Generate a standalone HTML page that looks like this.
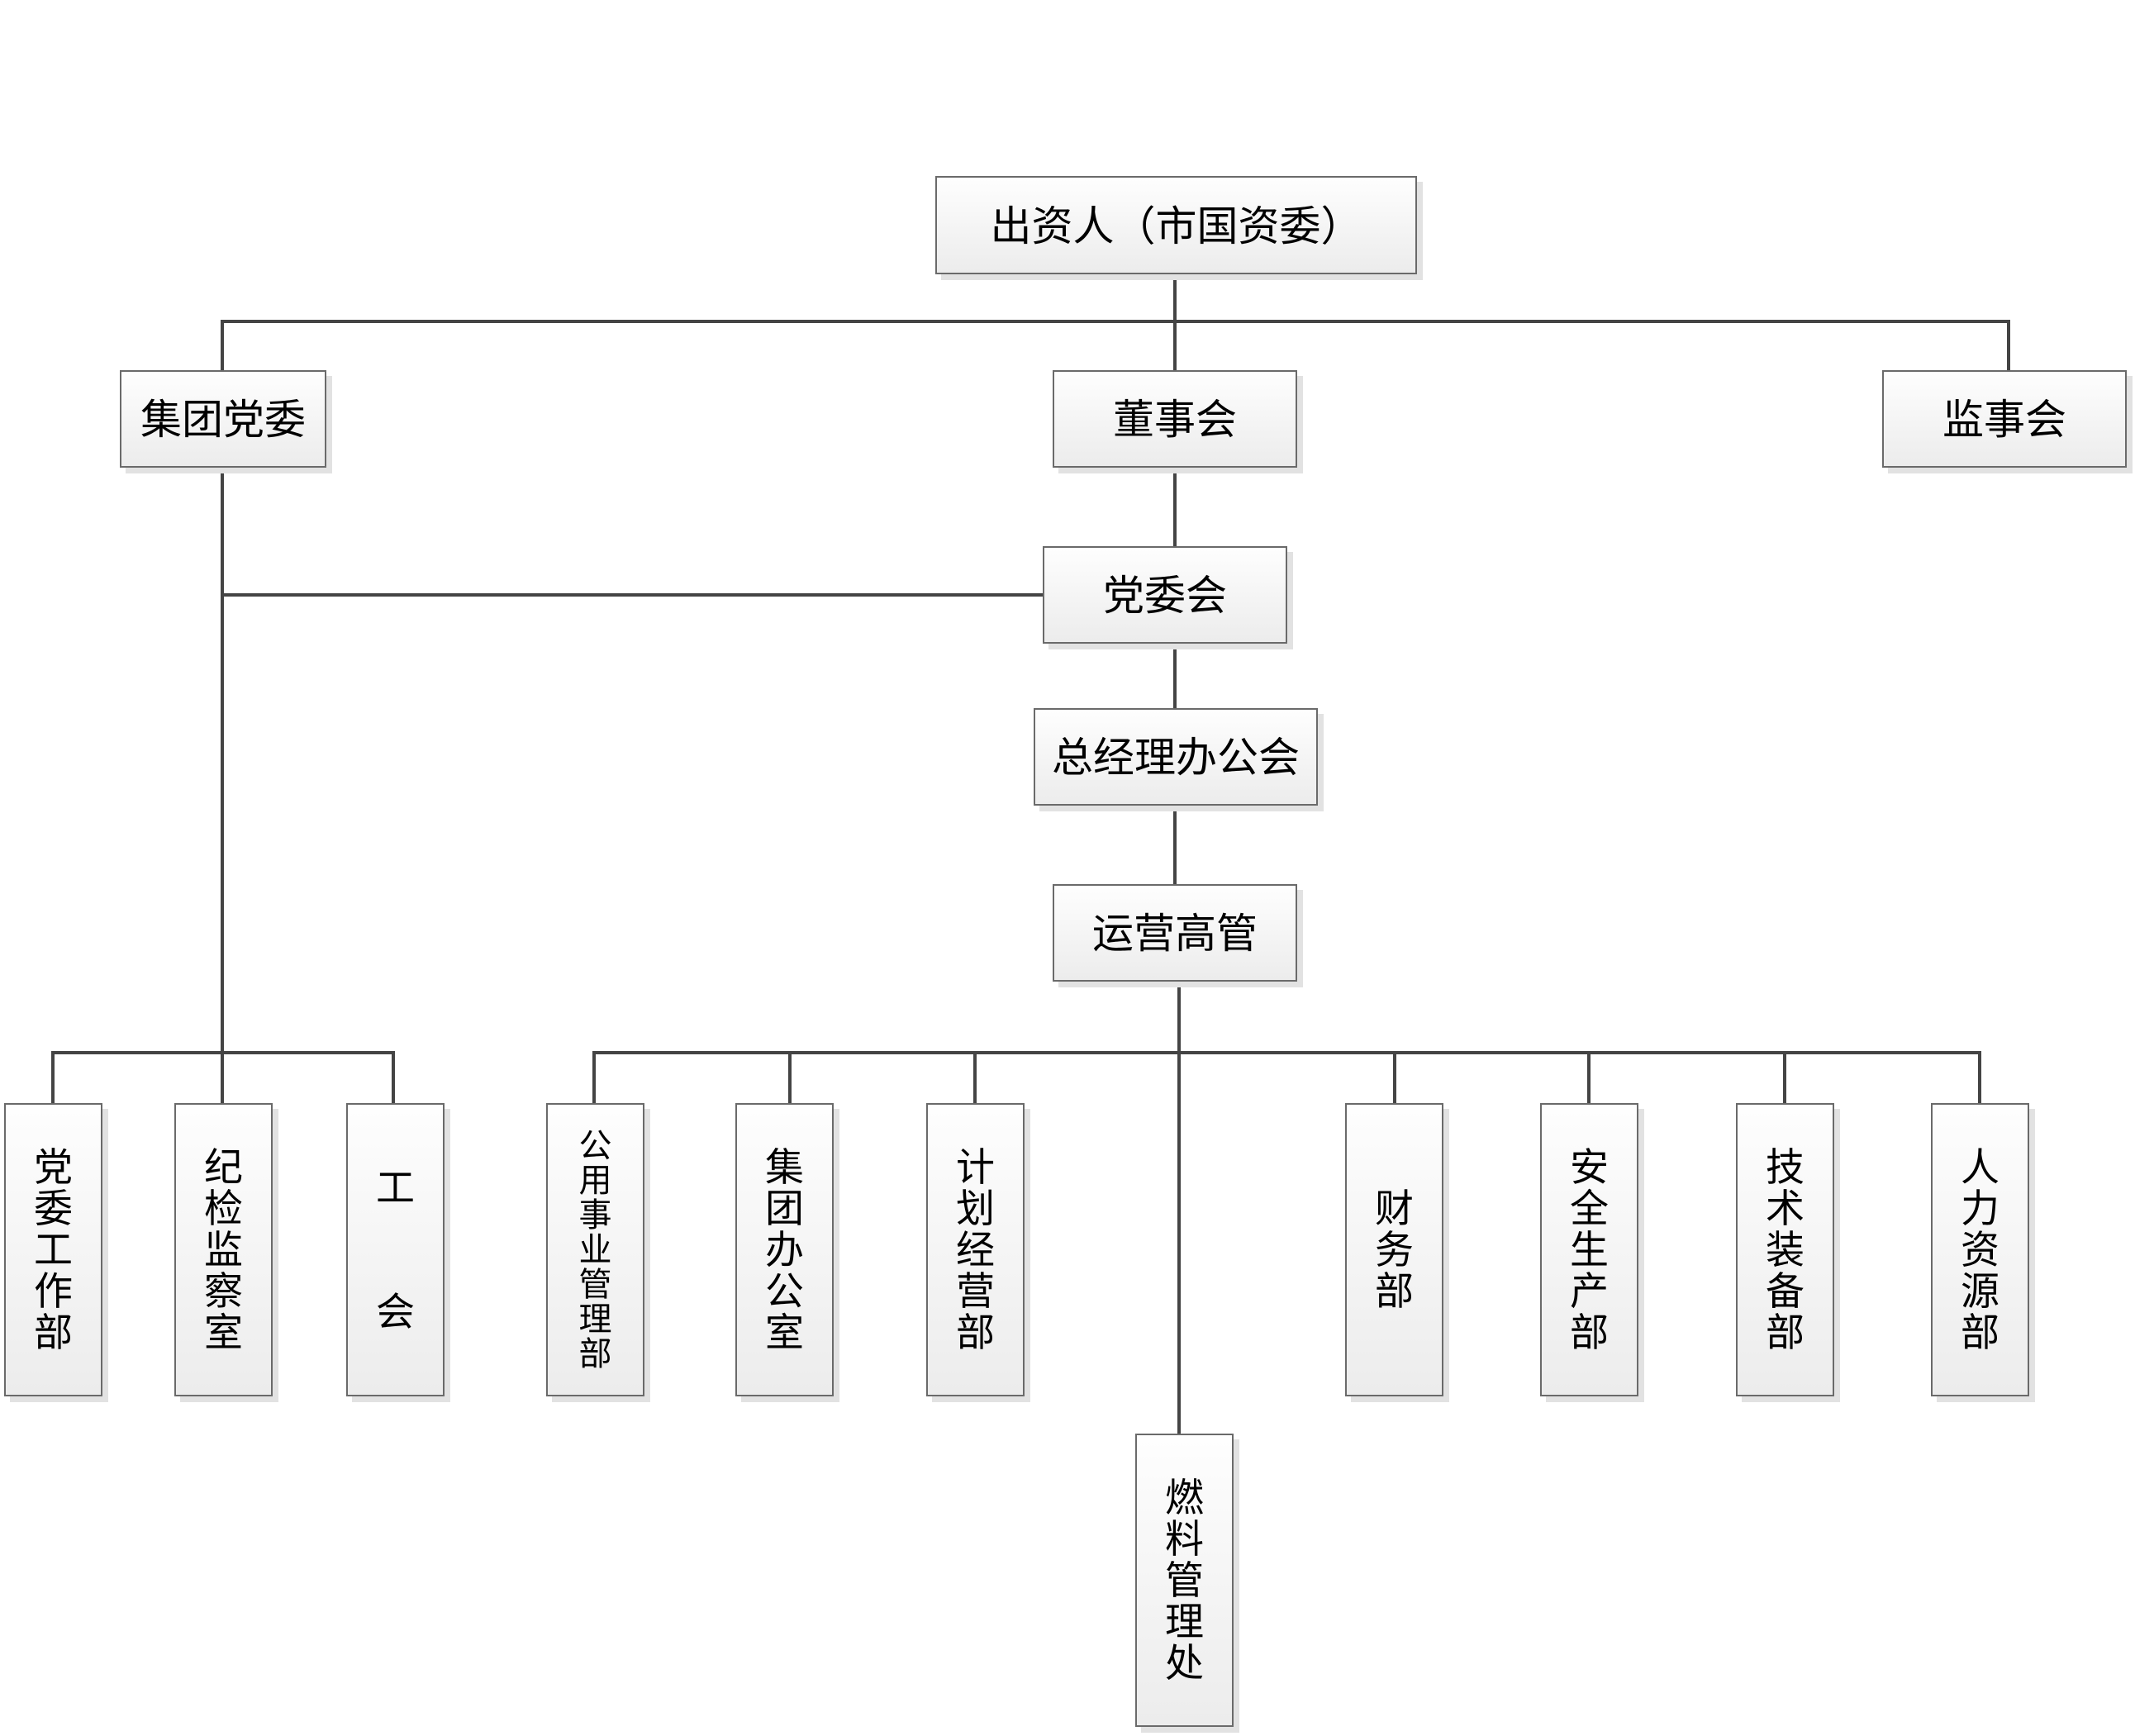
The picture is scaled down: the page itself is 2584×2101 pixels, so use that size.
<!DOCTYPE html>
<html><head><meta charset="utf-8"><style>
html,body{margin:0;padding:0;background:#fff}
body{width:2584px;height:2101px;position:relative;overflow:hidden;font-family:"Liberation Sans","Noto Sans CJK SC",sans-serif;color:#000}
.b{position:absolute;box-sizing:border-box;border:2px solid #6a6a6a;background:linear-gradient(#fefefe,#ececec);box-shadow:7px 7px 0 #e2e2e2;display:flex;align-items:center;justify-content:center;font-size:50px;white-space:nowrap;padding-bottom:6px}
.v{flex-direction:column;line-height:50px;font-size:47px;padding-bottom:0}
.l{position:absolute;background:#444}
</style></head><body>
<div class="l" style="left:1420px;top:331px;width:4px;height:330px"></div>
<div class="l" style="left:267px;top:387px;width:2166px;height:4px"></div>
<div class="l" style="left:267px;top:389px;width:4px;height:59px"></div>
<div class="l" style="left:2429px;top:389px;width:4px;height:59px"></div>
<div class="l" style="left:267px;top:565px;width:4px;height:772px"></div>
<div class="l" style="left:269px;top:718px;width:995px;height:4px"></div>
<div class="l" style="left:1420px;top:778px;width:4px;height:80px"></div>
<div class="l" style="left:1420px;top:974px;width:4px;height:97px"></div>
<div class="l" style="left:1425px;top:1187px;width:4px;height:548px"></div>
<div class="l" style="left:62px;top:1272px;width:416px;height:4px"></div>
<div class="l" style="left:62px;top:1272px;width:4px;height:64px"></div>
<div class="l" style="left:474px;top:1272px;width:4px;height:64px"></div>
<div class="l" style="left:717px;top:1272px;width:1681px;height:4px"></div>
<div class="l" style="left:717px;top:1272px;width:4px;height:64px"></div>
<div class="l" style="left:954px;top:1272px;width:4px;height:64px"></div>
<div class="l" style="left:1178px;top:1272px;width:4px;height:64px"></div>
<div class="l" style="left:1686px;top:1272px;width:4px;height:64px"></div>
<div class="l" style="left:1921px;top:1272px;width:4px;height:64px"></div>
<div class="l" style="left:2158px;top:1272px;width:4px;height:64px"></div>
<div class="l" style="left:2394px;top:1272px;width:4px;height:64px"></div>

<div class="b" style="left:1132px;top:213px;width:583px;height:119px">出资人（市国资委）</div>
<div class="b" style="left:145px;top:448px;width:250px;height:118px">集团党委</div>
<div class="b" style="left:1274px;top:448px;width:296px;height:118px">董事会</div>
<div class="b" style="left:2278px;top:448px;width:296px;height:118px">监事会</div>
<div class="b" style="left:1262px;top:661px;width:296px;height:118px">党委会</div>
<div class="b" style="left:1251px;top:857px;width:344px;height:118px">总经理办公会</div>
<div class="b" style="left:1274px;top:1070px;width:296px;height:118px">运营高管</div>

<div class="b v" style="left:5px;top:1335px;width:119px;height:355px"><span>党</span><span>委</span><span>工</span><span>作</span><span>部</span></div>
<div class="b v" style="left:211px;top:1335px;width:119px;height:355px"><span>纪</span><span>检</span><span>监</span><span>察</span><span>室</span></div>
<div class="b v" style="left:419px;top:1335px;width:119px;height:355px"><span style="margin-bottom:100px">工</span><span>会</span></div>
<div class="b v" style="left:661px;top:1335px;width:119px;height:355px;font-size:40px;line-height:42px"><span>公</span><span>用</span><span>事</span><span>业</span><span>管</span><span>理</span><span>部</span></div>
<div class="b v" style="left:890px;top:1335px;width:119px;height:355px"><span>集</span><span>团</span><span>办</span><span>公</span><span>室</span></div>
<div class="b v" style="left:1121px;top:1335px;width:119px;height:355px"><span>计</span><span>划</span><span>经</span><span>营</span><span>部</span></div>
<div class="b v" style="left:1628px;top:1335px;width:119px;height:355px"><span>财</span><span>务</span><span>部</span></div>
<div class="b v" style="left:1864px;top:1335px;width:119px;height:355px"><span>安</span><span>全</span><span>生</span><span>产</span><span>部</span></div>
<div class="b v" style="left:2101px;top:1335px;width:119px;height:355px"><span>技</span><span>术</span><span>装</span><span>备</span><span>部</span></div>
<div class="b v" style="left:2337px;top:1335px;width:119px;height:355px"><span>人</span><span>力</span><span>资</span><span>源</span><span>部</span></div>
<div class="b v" style="left:1374px;top:1735px;width:119px;height:355px"><span>燃</span><span>料</span><span>管</span><span>理</span><span>处</span></div>
</body></html>
